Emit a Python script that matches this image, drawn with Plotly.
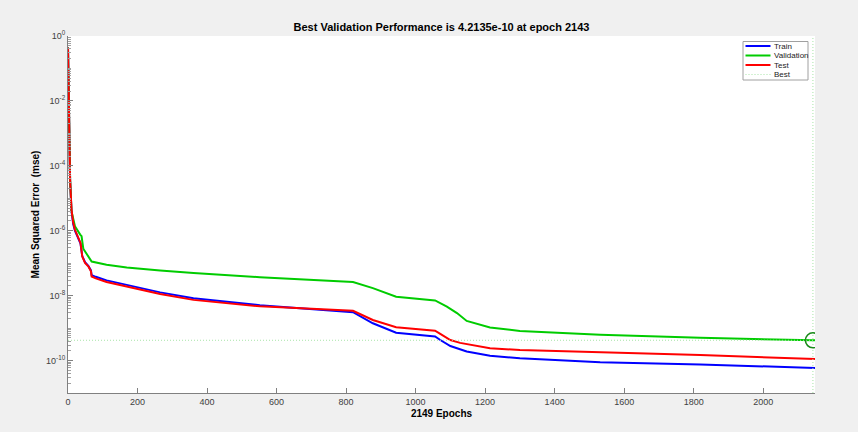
import plotly.graph_objects as go

# ---- data ----
train_epochs = [0, 3, 6, 10, 15, 20, 30, 36, 41, 49, 59, 66, 68, 80, 111, 169, 265, 361, 552, 820,
                877, 944, 1056, 1071, 1100, 1147, 1214, 1300, 1531, 1819, 2149]
train_mse = [4.4e-1, 1.26e-3, 3.5e-5, 4.0e-6, 1.6e-6, 1.0e-6, 5.6e-7, 4.0e-7, 1.66e-7, 1.07e-7,
             8.1e-8, 6.0e-8, 4.3e-8, 3.8e-8, 2.95e-8, 2.14e-8, 1.26e-8, 8.3e-9, 5.1e-9, 3.1e-9,
             1.41e-9, 7.2e-10, 5.5e-10, 4.3e-10, 2.8e-10, 1.9e-10, 1.41e-10, 1.17e-10, 8.9e-11,
             7.6e-11, 5.9e-11]

val_epochs = [0, 3, 6, 10, 20, 35, 39, 44, 63, 68, 111, 169, 265, 361, 552, 820,
              877, 944, 1056, 1090, 1119, 1147, 1214, 1300, 1531, 1819, 2143, 2149]
val_mse = [4.4e-1, 1.26e-3, 4.0e-5, 4.0e-6, 1.38e-6, 7.6e-7, 6.8e-7, 2.8e-7, 1.41e-7, 1.12e-7,
           8.9e-8, 7.4e-8, 6.0e-8, 5.0e-8, 3.7e-8, 2.63e-8, 1.7e-8, 9.3e-9, 7.1e-9, 4.6e-9,
           2.9e-9, 1.66e-9, 1.05e-9, 8.1e-10, 6.2e-10, 5.0e-10, 4.2135e-10, 4.21e-10]

test_epochs = [0, 3, 6, 10, 15, 20, 30, 36, 41, 49, 59, 66, 68, 80, 111, 169, 265, 361, 552, 820,
               877, 944, 1056, 1071, 1100, 1128, 1214, 1300, 1531, 1819, 2149]
test_mse = [4.4e-1, 1.26e-3, 3.8e-5, 4.5e-6, 1.78e-6, 1.07e-6, 6.0e-7, 4.2e-7, 1.62e-7, 1.02e-7,
            7.8e-8, 5.6e-8, 3.9e-8, 3.4e-8, 2.63e-8, 1.9e-8, 1.12e-8, 7.4e-9, 4.7e-9, 3.4e-9,
            1.78e-9, 1.07e-9, 8.3e-10, 6.6e-10, 4.3e-10, 3.5e-10, 2.4e-10, 2.1e-10, 1.82e-10,
            1.48e-10, 1.12e-10]

best_epoch = 2143
best_perf = 4.2135e-10
total_epochs = 2149
y_limits = [1e-11, 1e0]

x_tick_vals = [0, 200, 400, 600, 800, 1000, 1200, 1400, 1600, 1800, 2000]
y_tick_vals = [1e0, 1e-2, 1e-4, 1e-6, 1e-8, 1e-10]
y_tick_text = ["10<sup>0</sup>", "10<sup>-2</sup>", "10<sup>-4</sup>", "10<sup>-6</sup>",
               "10<sup>-8</sup>", "10<sup>-10</sup>"]

legend_names = ["Train", "Validation", "Test", "Best"]
legend_colors = ["#0000ff", "#00cc00", "#ff0000", "#a8e4a8"]

FONT = "Liberation Sans, Arial, sans-serif"
W, H = 858, 432
ML, MR, MT, MB = 68, 43, 36, 39
PW, PH = W - ML - MR, H - MT - MB
DOT = "1px,2px"


def px_x(px):
    return (px - ML) / PW


def px_y(py):
    return (H - MB - py) / PH


fig = go.Figure()
fig.add_trace(go.Scatter(x=train_epochs, y=train_mse, mode="lines", name="Train",
                         line=dict(color=legend_colors[0], width=2)))
fig.add_trace(go.Scatter(x=val_epochs, y=val_mse, mode="lines", name="Validation",
                         line=dict(color=legend_colors[1], width=2)))
fig.add_trace(go.Scatter(x=test_epochs, y=test_mse, mode="lines", name="Test",
                         line=dict(color=legend_colors[2], width=2)))
fig.add_trace(go.Scatter(x=[best_epoch, best_epoch, None, 0, total_epochs],
                         y=[y_limits[0], y_limits[1], None, best_perf, best_perf],
                         mode="lines", name="Best", connectgaps=False,
                         line=dict(color=legend_colors[3], width=1, dash=DOT)))
fig.add_trace(go.Scatter(x=[best_epoch], y=[best_perf], mode="markers", showlegend=False,
                         marker=dict(symbol="circle-open", size=15, color="#1a8a1a",
                                     line=dict(width=1.6, color="#1a8a1a"))))

# compact MATLAB-style legend box
shapes = [dict(type="rect", xref="paper", yref="paper",
               x0=px_x(743), x1=px_x(808), y0=px_y(80), y1=px_y(41.5),
               fillcolor="#ffffff", line=dict(color="#a0a0a0", width=1), layer="above")]
annotations = []
for i, (name, col) in enumerate(zip(legend_names, legend_colors)):
    yc = 46 + i * 9.5
    shapes.append(dict(type="line", xref="paper", yref="paper",
                       x0=px_x(745.5), x1=px_x(770.5), y0=px_y(yc), y1=px_y(yc),
                       line=dict(color=col, width=2 if i < 3 else 1,
                                 dash="solid" if i < 3 else DOT), layer="above"))
    annotations.append(dict(text=name, xref="paper", yref="paper", x=px_x(772), y=px_y(yc),
                            xanchor="left", yanchor="middle", showarrow=False,
                            font=dict(family=FONT, size=8, color="#222222")))

fig.update_layout(
    width=W, height=H,
    margin=dict(l=ML, r=MR, t=MT, b=MB),
    paper_bgcolor="#f0f0f0", plot_bgcolor="#ffffff",
    font=dict(family=FONT, size=9, color="#404040"),
    title=dict(text="<b>Best Validation Performance is 4.2135e-10 at epoch 2143</b>",
               x=0.5, xref="paper", y=1 - 27 / H, yref="container", yanchor="middle",
               font=dict(family=FONT, size=11, color="#000000")),
    showlegend=False,
    shapes=shapes,
    annotations=annotations,
)

fig.update_xaxes(range=[0, total_epochs], tickvals=x_tick_vals, ticks="inside", ticklen=5,
                 tickcolor="#808080", showline=True, linecolor="#808080", linewidth=1,
                 showgrid=False, zeroline=False, mirror=False,
                 title=dict(text="<b>2149 Epochs</b>", standoff=4,
                            font=dict(family=FONT, size=10, color="#000000")))
fig.update_yaxes(type="log", range=[-11, 0], tickvals=y_tick_vals, ticktext=y_tick_text,
                 ticks="inside", ticklen=5, tickcolor="#808080", showline=True,
                 linecolor="#808080", linewidth=1, showgrid=False, zeroline=False, mirror=False,
                 minor=dict(ticks="inside", ticklen=3, tickcolor="#a0a0a0", dtick="D1",
                            showgrid=False),
                 title=dict(text="<b>Mean Squared Error  (mse)</b>", standoff=4,
                            font=dict(family=FONT, size=10, color="#000000")))

fig.write_html("out.html", config={"displayModeBar": False},
               post_script="document.body.style.margin='0';document.body.style.background='#f0f0f0';")
